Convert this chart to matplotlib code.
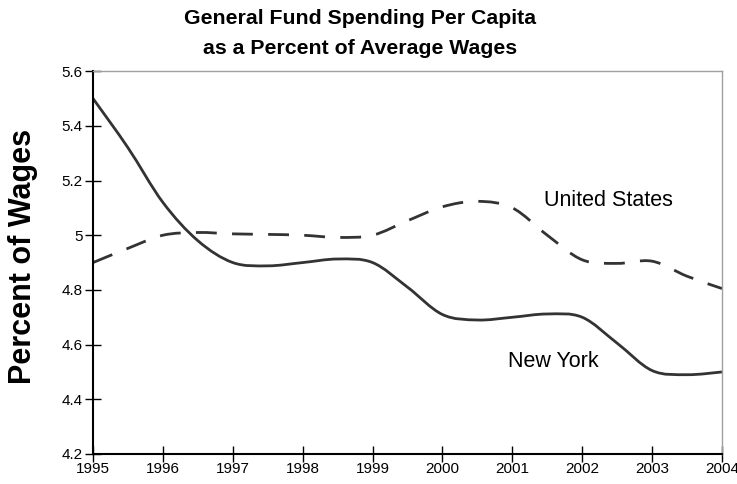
import numpy as np
import matplotlib
matplotlib.use("Agg")
import matplotlib.pyplot as plt
from matplotlib.path import Path
from matplotlib.patches import PathPatch

plt.rcParams['font.family'] = ['Liberation Sans', 'DejaVu Sans']

# half-year readings, percent of average wages
years = [1995, 1995.5, 1996, 1996.5, 1997, 1997.5, 1998, 1998.5, 1999, 1999.5,
         2000, 2000.5, 2001, 2001.5, 2002, 2002.5, 2003, 2003.5, 2004]
new_york = [5.50, 5.32, 5.12, 4.98, 4.90, 4.888, 4.90, 4.913, 4.90, 4.81,
            4.71, 4.69, 4.70, 4.712, 4.70, 4.605, 4.505, 4.49, 4.50]
united_states = [4.90, 4.952, 5.00, 5.01, 5.005, 5.003, 5.00, 4.992, 5.00, 5.053,
                 5.104, 5.124, 5.10, 5.00, 4.91, 4.897, 4.905, 4.85, 4.805]

year_ticks = list(range(1995, 2005))
wage_ticks = [4.2, 4.4, 4.6, 4.8, 5.0, 5.2, 5.4, 5.6]
wage_labels = ['4.2', '4.4', '4.6', '4.8', '5', '5.2', '5.4', '5.6']


def smooth_path(x, y, tension=1/6):
    # bezier segments through the points (Catmull-Rom style smoothing)
    pts = np.column_stack([x, y]).astype(float)
    verts = [pts[0]]
    codes = [Path.MOVETO]
    n = len(pts)
    for i in range(n - 1):
        p0 = pts[max(i - 1, 0)]
        p1 = pts[i]
        p2 = pts[i + 1]
        p3 = pts[min(i + 2, n - 1)]
        c1 = p1 + (p2 - p0) * tension
        c2 = p2 - (p3 - p1) * tension
        verts += [c1, c2, p2]
        codes += [Path.CURVE4] * 3
    return Path(verts, codes)


fig = plt.figure(figsize=(7.37, 4.84), dpi=100)
ax = fig.add_axes([0.1262, 0.062, 0.8535, 0.791])

line_color = '#333333'
ax.add_patch(PathPatch(smooth_path(years, new_york), fill=False,
                       edgecolor=line_color, lw=2.0, capstyle='butt'))
ax.add_patch(PathPatch(smooth_path(years, united_states), fill=False,
                       edgecolor=line_color, lw=2.0, linestyle=(0, (7.5, 5.5)),
                       capstyle='butt'))

ax.set_xlim(1995, 2004)
ax.set_ylim(4.2, 5.6)
ax.set_xticks(year_ticks)
ax.set_xticklabels([str(y) for y in year_ticks])
ax.set_yticks(wage_ticks)
ax.set_yticklabels(wage_labels)
ax.tick_params(direction='inout', length=11, width=1, labelsize=11)
ax.tick_params(axis='y', pad=2)
ax.tick_params(axis='x', pad=0)

for side in ['left', 'bottom']:
    ax.spines[side].set_color('black')
    ax.spines[side].set_linewidth(1.5)
for side in ['top', 'right']:
    ax.spines[side].set_color('#a0a0a0')
    ax.spines[side].set_linewidth(1.0)

ax.text(2002.38, 5.128, 'United States', fontsize=15.5, ha='center', va='center')
ax.text(2001.58, 4.54, 'New York', fontsize=15.5, ha='center', va='center')

ax.set_ylabel('Percent of Wages', fontsize=22, fontweight='bold')
ax.yaxis.set_label_coords(-0.087, 0.517)
fig.text(0.4885, 0.961, 'General Fund Spending Per Capita',
         fontsize=15.3, fontweight='bold', ha='center', va='center')
fig.text(0.4885, 0.899, 'as a Percent of Average Wages',
         fontsize=15.3, fontweight='bold', ha='center', va='center')

fig.savefig('out.png', dpi=100)
